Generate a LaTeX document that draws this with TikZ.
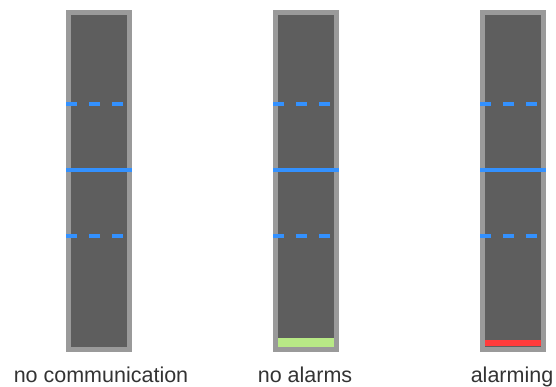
\documentclass[tikz,border=0pt]{standalone}
\usepackage{fontspec}
\setmainfont{Liberation Sans}
\definecolor{barborder}{HTML}{9A9A9A}
\definecolor{barfill}{HTML}{5E5E5E}
\definecolor{lineblue}{HTML}{3391FF}
\definecolor{okgreen}{HTML}{B8E986}
\definecolor{alarmred}{HTML}{FF3B3B}
\begin{document}
\begin{tikzpicture}[x=1pt,y=-1pt,
  bar/.style={draw=barborder, line width=5pt, fill=barfill, minimum width=61pt, minimum height=337pt, inner sep=0pt, outer sep=0pt},
  solidmark/.style={draw=lineblue, line width=4pt},
  dashmark/.style={draw=lineblue, line width=4pt, dash pattern=on 11pt off 12pt},
  lab/.style={font=\fontsize{21.5pt}{24pt}\selectfont, text=black!80, anchor=base, inner sep=0pt}]
\useasboundingbox (0,0) rectangle (556,386);
\foreach \n/\cx in {a/99, b/306, c/513}{
  \node[bar] (\n) at (\cx,181) {};
  \coordinate (\n t1) at ([yshift=-77.5pt]\n.north west);
  \coordinate (\n t1e) at ([yshift=-77.5pt]\n.north east);
}
% indicator bars
\fill[okgreen] ([xshift=2.5pt,yshift=2.5pt]b.south west) rectangle ([xshift=-2.5pt,yshift=11.5pt]b.south east);
\fill[alarmred] ([xshift=2.5pt,yshift=4pt]c.south west) rectangle ([xshift=-2.5pt,yshift=10pt]c.south east);
% blue level lines
\foreach \n in {a,b,c}{
  \coordinate (\n L1) at ([xshift=-2.5pt]\n.west |- 0,104);
  \coordinate (\n R1) at ([xshift=2.5pt]\n.east |- 0,104);
  \coordinate (\n L2) at ([xshift=-2.5pt]\n.west |- 0,170);
  \coordinate (\n R2) at ([xshift=2.5pt]\n.east |- 0,170);
  \coordinate (\n L3) at ([xshift=-2.5pt]\n.west |- 0,236);
  \coordinate (\n R3) at ([xshift=2.5pt]\n.east |- 0,236);
  \draw[dashmark] (\n L1) -- (\n R1);
  \draw[solidmark] (\n L2) -- (\n R2);
  \draw[dashmark] (\n L3) -- (\n R3);
}
\node[lab] (la) at (101,382) {no communication};
\node[lab] (lb) at (305,382) {no alarms};
\node[lab] (lc) at (512,382) {alarming};
\end{tikzpicture}
\end{document}
